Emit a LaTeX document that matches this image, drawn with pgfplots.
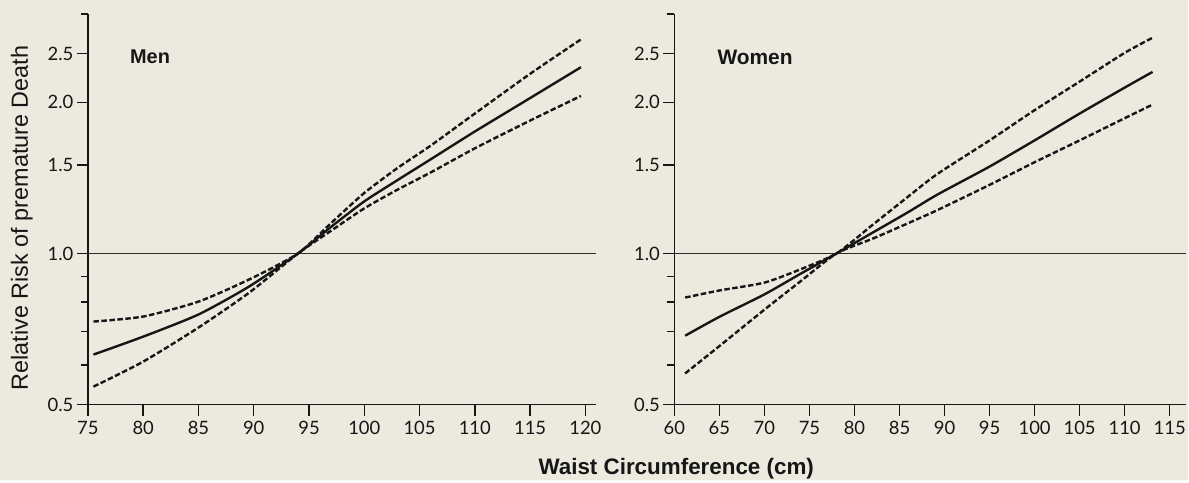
\documentclass[border=0pt]{standalone}
\usepackage{fontspec}
\setmainfont{Liberation Sans}
\newfontfamily\tickfont{Lato}
\usepackage{pgfplots}
\pgfplotsset{compat=1.18}
\definecolor{bgc}{RGB}{236,234,223}
\definecolor{ink}{RGB}{22,22,22}
\tikzset{
  est/.style={line width=2.4bp, ink, smooth, tension=0.4},
  ci/.style={line width=2.4bp, ink, dash pattern=on 5.5bp off 2.5bp, smooth, tension=0.4},
  hline/.style={line width=1.8bp, ink!90},
}
\begin{document}
\begin{tikzpicture}
\fill[bgc] (0,0) rectangle (1189bp,480bp);
\begin{axis}[at={(88bp,75bp)}, anchor=south west,
    scale only axis, width=509bp, height=391bp,
    ymode=log, ymin=0.5, ymax=3.0,
    axis x line=bottom, axis y line=left,
    axis line style={-, line width=1.7bp, ink},
    tick align=outside, tick style={line width=1.5bp, ink},
    major tick length=11bp, minor tick length=7bp,
    ytick={0.5,1,1.5,2,2.5}, yticklabels={0.5,1.0,1.5,2.0,2.5},
    minor ytick={0.6,0.7,0.8,0.9,3},
    xtick={75,80,...,120},
    /pgf/number format/assume math mode=true,
    tick label style={font=\tickfont\fontsize{18.5}{21}\selectfont, text=ink},
    xticklabel style={yshift=-2bp},
    clip=false,
  xmin=75, xmax=121,
  ylabel={Relative Risk of premature Death},
  ylabel style={at={(axis description cs:-0.13,0.478)}, anchor=center, font=\fontsize{23.5}{26}\selectfont, text=ink},
  xlabel={\bfseries Waist Circumference (cm)},
  xlabel style={at={(axis description cs:1.157,-0.163)}, anchor=center, font=\fontsize{22.5}{26}\selectfont, text=ink},
]
\addplot[hline] coordinates {(75,1) (121,1)};
\addplot[est] coordinates {(75.5,0.629) (80,0.683) (85,0.756) (89.6,0.860) (94,1.0) (97,1.13) (100,1.27) (103,1.40) (106,1.54) (110,1.75) (115,2.04) (119.6,2.35)};
\addplot[ci] coordinates {(75.5,0.732) (80,0.749) (85,0.802) (89.6,0.888) (94,1.0) (97,1.15) (100,1.32) (103,1.48) (106,1.64) (110,1.90) (115,2.28) (119.6,2.67)};
\addplot[ci] coordinates {(75.5,0.543) (80,0.609) (85,0.712) (89.6,0.836) (94,1.0) (97,1.11) (100,1.23) (103,1.34) (106,1.45) (110,1.62) (115,1.84) (119.6,2.06)};
\node[anchor=west, font=\bfseries\fontsize{20}{24}\selectfont, text=ink] at (axis cs:78.5,2.46) {Men};
\end{axis}
\begin{axis}[at={(675bp,75bp)}, anchor=south west,
    scale only axis, width=512bp, height=391bp,
    ymode=log, ymin=0.5, ymax=3.0,
    axis x line=bottom, axis y line=left,
    axis line style={-, line width=1.7bp, ink},
    tick align=outside, tick style={line width=1.5bp, ink},
    major tick length=11bp, minor tick length=7bp,
    ytick={0.5,1,1.5,2,2.5}, yticklabels={0.5,1.0,1.5,2.0,2.5},
    minor ytick={0.6,0.7,0.8,0.9,3},
    xtick={60,65,...,115},
    /pgf/number format/assume math mode=true,
    tick label style={font=\tickfont\fontsize{18.5}{21}\selectfont, text=ink},
    xticklabel style={yshift=-2bp},
    clip=false,
  xmin=60, xmax=116.8,
]
\addplot[hline] coordinates {(60,1) (116.8,1)};
\addplot[est] coordinates {(61.2,0.686) (65,0.748) (70,0.829) (74,0.911) (78,1.0) (82,1.10) (86,1.21) (89.2,1.31) (95,1.49) (100,1.68) (105,1.90) (110,2.14) (113.1,2.30)};
\addplot[ci] coordinates {(61.2,0.817) (65,0.844) (70,0.875) (74,0.93) (78,1.0) (82,1.14) (86,1.30) (89.2,1.44) (95,1.68) (100,1.93) (105,2.20) (110,2.51) (113.1,2.69)};
\addplot[ci] coordinates {(61.2,0.577) (65,0.654) (70,0.773) (74,0.88) (78,1.0) (82,1.07) (86,1.15) (89.2,1.22) (95,1.37) (100,1.52) (105,1.68) (110,1.86) (113.1,1.98)};
\node[anchor=west, font=\bfseries\fontsize{21}{24}\selectfont, text=ink] at (axis cs:64.4,2.46) {Women};
\end{axis}
\end{tikzpicture}
\end{document}
